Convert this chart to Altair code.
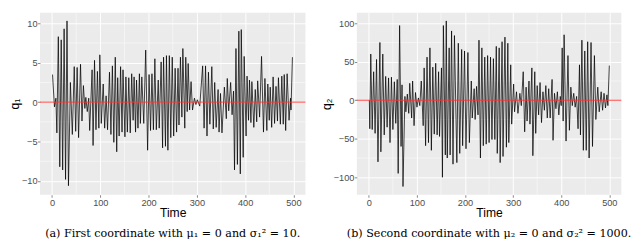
import altair as alt
import pandas as pd

# ---- data (turning points of each series) ----
t1 = [1, 5, 8, 10, 13, 16, 19, 22, 25, 28,
      31, 34, 38, 42, 46, 49, 52, 55, 59, 62,
      65, 68, 70, 73, 76, 78, 83, 85, 88, 91,
      94, 97, 99, 102, 106, 109, 112, 115, 119, 122,
      125, 128, 131, 134, 136, 139, 142, 145, 147, 151,
      153, 156, 159, 162, 165, 168, 170, 173, 175, 178,
      181, 183, 186, 190, 194, 198, 201, 204, 207, 210,
      213, 216, 220, 222, 226, 229, 231, 235, 237, 240,
      243, 246, 249, 252, 255, 258, 261, 263, 266, 269,
      271, 275, 277, 280, 282, 285, 288, 291, 295, 298,
      301, 306, 312, 315, 318, 321, 324, 327, 331, 334,
      337, 340, 344, 346, 349, 352, 357, 361, 363, 366,
      370, 373, 376, 378, 381, 384, 387, 390, 392, 396,
      398, 402, 404, 407, 409, 412, 414, 418, 421, 424,
      426, 430, 434, 438, 441, 445, 447, 450, 452, 455,
      458, 461, 464, 467, 469, 473, 476, 479, 481, 484,
      487, 491, 494, 495, 498]
q1 = [3.5, -0.6, 0.5, -3.9, 8.3, -8.2, 7.9, -8.6, 9.3, -9.8,
      10.3, -10.6, 2.5, -4.1, 4.5, -3.7, 4.4, -4.5, 4.8, -2.4,
      2.1, -0.8, 0.6, -1.2, 0.5, -3.6, 4.1, -5.5, 5.3, -3.5,
      3.9, -3.3, 6.0, -2.7, 2.3, -3.3, 0.8, -3.5, 3.8, -4.1,
      4.6, -5.1, 5.7, -6.3, 3.1, -4.3, 4.5, -3.8, 4.1, -4.4,
      3.2, -3.8, 3.1, -3.9, 3.6, -2.3, 3.2, -3.8, 2.8, -3.3,
      3.6, -2.7, 3.2, -2.7, 6.6, -6.1, 3.5, -3.6, 3.6, -3.5,
      5.5, -3.5, 2.8, -3.3, 5.1, -5.8, 5.7, -5.6, 5.9, -6.1,
      5.9, -4.5, 5.7, -4.3, 4.3, -3.8, 4.3, -2.9, 5.7, -1.9,
      6.8, -3.3, 5.7, -1.2, 4.9, -1.0, 2.6, -1.0, 0.5, -0.3,
      0.3, -0.5, 4.6, -3.3, 4.6, -4.3, 3.8, -2.8, 4.5, -3.4,
      2.5, -3.2, 1.6, -3.8, 1.1, -3.9, 1.9, -2.1, 3.0, -1.1,
      2.5, -1.6, 1.4, -8.6, 6.8, -7.9, 9.0, -9.1, 9.2, -7.0,
      5.8, -4.3, 3.3, -2.3, 2.8, -2.6, 2.6, -3.2, 1.6, -2.5,
      2.7, -1.9, 5.8, -3.8, 3.0, -3.6, 2.3, -2.3, 1.9, -3.2,
      3.2, -2.7, 2.0, -2.4, 3.1, -2.8, 3.3, -2.8, 3.5, -3.6,
      3.6, -2.3, 0.5, -1.0, 5.7]

t2 = [1, 2, 4, 7, 10, 13, 16, 19, 23, 25,
      29, 32, 35, 38, 41, 44, 47, 50, 53, 56,
      59, 61, 64, 67, 69, 71, 75, 77, 80, 83,
      85, 89, 91, 94, 97, 100, 103, 106, 109, 113,
      115, 118, 121, 124, 127, 130, 133, 136, 139, 142,
      145, 147, 151, 153, 155, 159, 161, 163, 167, 169,
      172, 175, 178, 183, 186, 189, 193, 195, 199, 202,
      206, 209, 213, 215, 219, 221, 224, 227, 229, 232,
      235, 238, 241, 244, 247, 250, 253, 256, 259, 262,
      265, 267, 271, 273, 277, 279, 283, 286, 289, 291,
      295, 297, 301, 303, 307, 310, 314, 317, 321, 324,
      327, 329, 333, 335, 339, 341, 345, 347, 350, 353,
      356, 359, 362, 365, 368, 371, 374, 377, 381, 383,
      386, 389, 392, 395, 398, 400, 402, 404, 406, 410,
      414, 417, 420, 423, 426, 429, 432, 435, 438, 440,
      443, 446, 449, 452, 455, 458, 462, 465, 469, 472,
      476, 479, 483, 486, 489, 492, 495, 497, 500]
q2 = [0, -37, 60, -38, 37, -43, 53, -80, 75, -67,
      60, -45, 31, -35, 29, -55, 30, -38, 24, -30,
      27, -95, 97, -60, 20, -112, 5, -15, 8, -17,
      22, -23, 25, -33, 10, -9, 3, -7, 25, -33,
      42, -59, 56, -55, 68, -65, 43, -44, 48, -45,
      37, -47, 42, -100, 97, -71, 103, -75, 68, -71,
      90, -83, 84, -81, 74, -69, 66, -59, 64, -63,
      62, -55, 25, -23, 15, -25, 18, -19, 78, -75,
      68, -59, 56, -57, 58, -55, 56, -51, 54, -51,
      70, -69, 68, -81, 76, -73, 82, -61, 74, -55,
      46, -31, 21, -15, 11, -17, 9, -7, 37, -41,
      17, -27, 25, -31, 42, -72, 37, -43, 19, -19,
      23, -29, 11, -13, 19, -23, 15, -23, 27, -52,
      9, -11, 11, -19, 5, -7, 68, -27, 85, -53,
      58, -39, 17, -7, 9, -9, 5, -37, 46, -45,
      78, -65, 64, -65, 76, -75, 75, -60, 58, -25,
      17, -15, 11, -13, 9, -10, 7, -7, 45]

x_ticks = [0, 100, 200, 300, 400, 500]
x_minor = [50, 150, 250, 350, 450]
y1_ticks = [-10, -5, 0, 5, 10]
y1_minor = [-7.5, -2.5, 2.5, 7.5]
y2_ticks = [-100, -50, 0, 50, 100]
y2_minor = [-75, -25, 25, 75]
caption_a = "(a) First coordinate with μ₁ = 0 and σ₁² = 10."
caption_b = "(b) Second coordinate with μ₂ = 0 and σ₂² = 1000."


def panel(t, q, y_dom, y_ticks, y_minor, y_title, caption, w, h):
    xs = alt.X("Time:Q", scale=alt.Scale(domain=[-25, 525], nice=False, zero=False),
               axis=alt.Axis(values=x_ticks, title="Time"))
    ys = alt.Y("q:Q", scale=alt.Scale(domain=y_dom, nice=False, zero=False),
               axis=alt.Axis(values=y_ticks, title=y_title))
    mx = alt.Chart(pd.DataFrame({"Time": x_minor})).mark_rule(
        color="white", strokeWidth=0.5).encode(x=xs)
    my = alt.Chart(pd.DataFrame({"q": y_minor})).mark_rule(
        color="white", strokeWidth=0.5).encode(y=ys)
    line = alt.Chart(pd.DataFrame({"Time": t, "q": q})).mark_line(
        color="black", strokeWidth=0.75).encode(x=xs, y=ys)
    zero = alt.Chart(pd.DataFrame({"q": [0]})).mark_rule(
        color="#ff2a2a", strokeWidth=0.9).encode(y=ys)
    return alt.layer(mx, my, line, zero).properties(
        width=w, height=h,
        title=alt.TitleParams(text=caption, orient="bottom", anchor="middle"))


a = panel(t1, q1, [-11.75, 11.35], y1_ticks, y1_minor, "q₁", caption_a, 274, 188)
b = panel(t2, q2, [-122.75, 113.75], y2_ticks, y2_minor, "q₂", caption_b, 273, 188)

chart = alt.hconcat(a, b, spacing=14).properties(padding=0).configure_view(
    fill="#EBEBEB", strokeWidth=0
).configure_axis(
    domain=False, grid=True, gridColor="white", gridWidth=1,
    tickColor="#333333", tickSize=2.5, tickWidth=0.6,
    labelColor="#4D4D4D", labelFont="Liberation Sans", labelFontSize=9.5, labelPadding=0.5,
    titleFont="Liberation Sans", titleFontSize=12.5, titleFontWeight="normal",
    titleColor="black", titlePadding=0
).configure_title(
    font="DejaVu Serif", fontSize=11.5, fontWeight="normal", color="black", offset=10
)

chart.save("out.html", embed_options={"renderer": "svg", "actions": False})
